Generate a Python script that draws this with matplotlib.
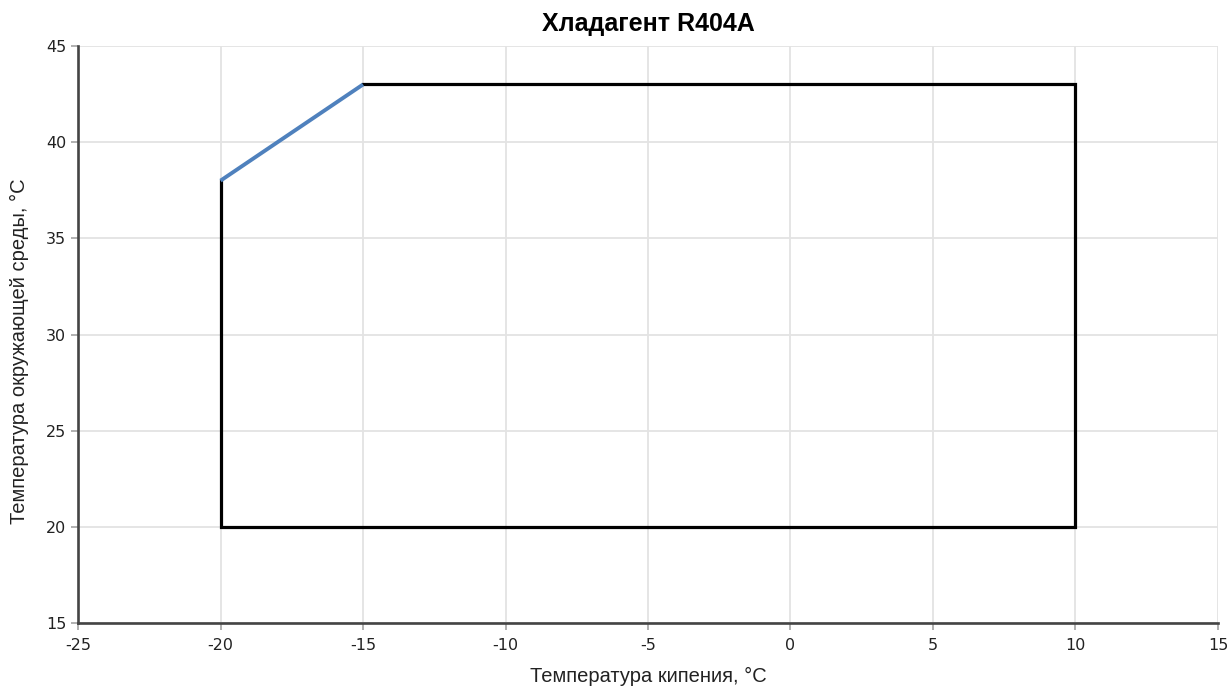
import matplotlib.pyplot as plt

plt.rcParams["axes.unicode_minus"] = False
plt.rcParams["font.family"] = "DejaVu Sans"

# Границы рабочей области
box_x = [-20, -20, 10, 10, -15]
box_y = [38, 20, 20, 43, 43]

# Наклонный участок
edge_x = [-20, -15]
edge_y = [38, 43]

x_ticks = [-25, -20, -15, -10, -5, 0, 5, 10, 15]
y_ticks = [15, 20, 25, 30, 35, 40, 45]

fig = plt.figure(figsize=(12.31, 6.93), dpi=100)
ax = fig.add_axes([0.0634, 0.101, 0.926, 0.8326])

ax.plot(box_x, box_y, color="black", linewidth=2.3, solid_joinstyle="miter", zorder=3)
ax.plot(edge_x, edge_y, color="#4f81bd", linewidth=2.8, solid_capstyle="butt", zorder=4)

ax.set_xlim(-25, 15)
ax.set_ylim(15, 45)
ax.set_xticks(x_ticks)
ax.set_yticks(y_ticks)
ax.grid(True, color="#e3e3e3", linewidth=1.3)
ax.set_axisbelow(True)

for s in ["top", "right"]:
    ax.spines[s].set_visible(False)
for s in ["left", "bottom"]:
    ax.spines[s].set_color("#444444")
    ax.spines[s].set_linewidth(1.9)

ax.tick_params(axis="both", colors="#aaaaaa", length=5, width=1.3, labelcolor="#222222", labelsize=11.5)
ax.tick_params(axis="x", pad=6)
for lab in ax.get_xticklabels() + ax.get_yticklabels():
    lab.set_family("DejaVu Sans")

ax.set_title("Хладагент R404A", fontsize=18, fontweight="bold", family="Liberation Sans", pad=11)
ax.set_xlabel("Температура кипения, °C", fontsize=14.5, family="Liberation Sans", color="#222222", labelpad=10)
ax.set_ylabel("Температура окружающей среды, °C", fontsize=14.5, family="Liberation Sans", color="#222222")
ax.yaxis.set_label_coords(-0.0434, 0.471)

plt.savefig("out.png")
